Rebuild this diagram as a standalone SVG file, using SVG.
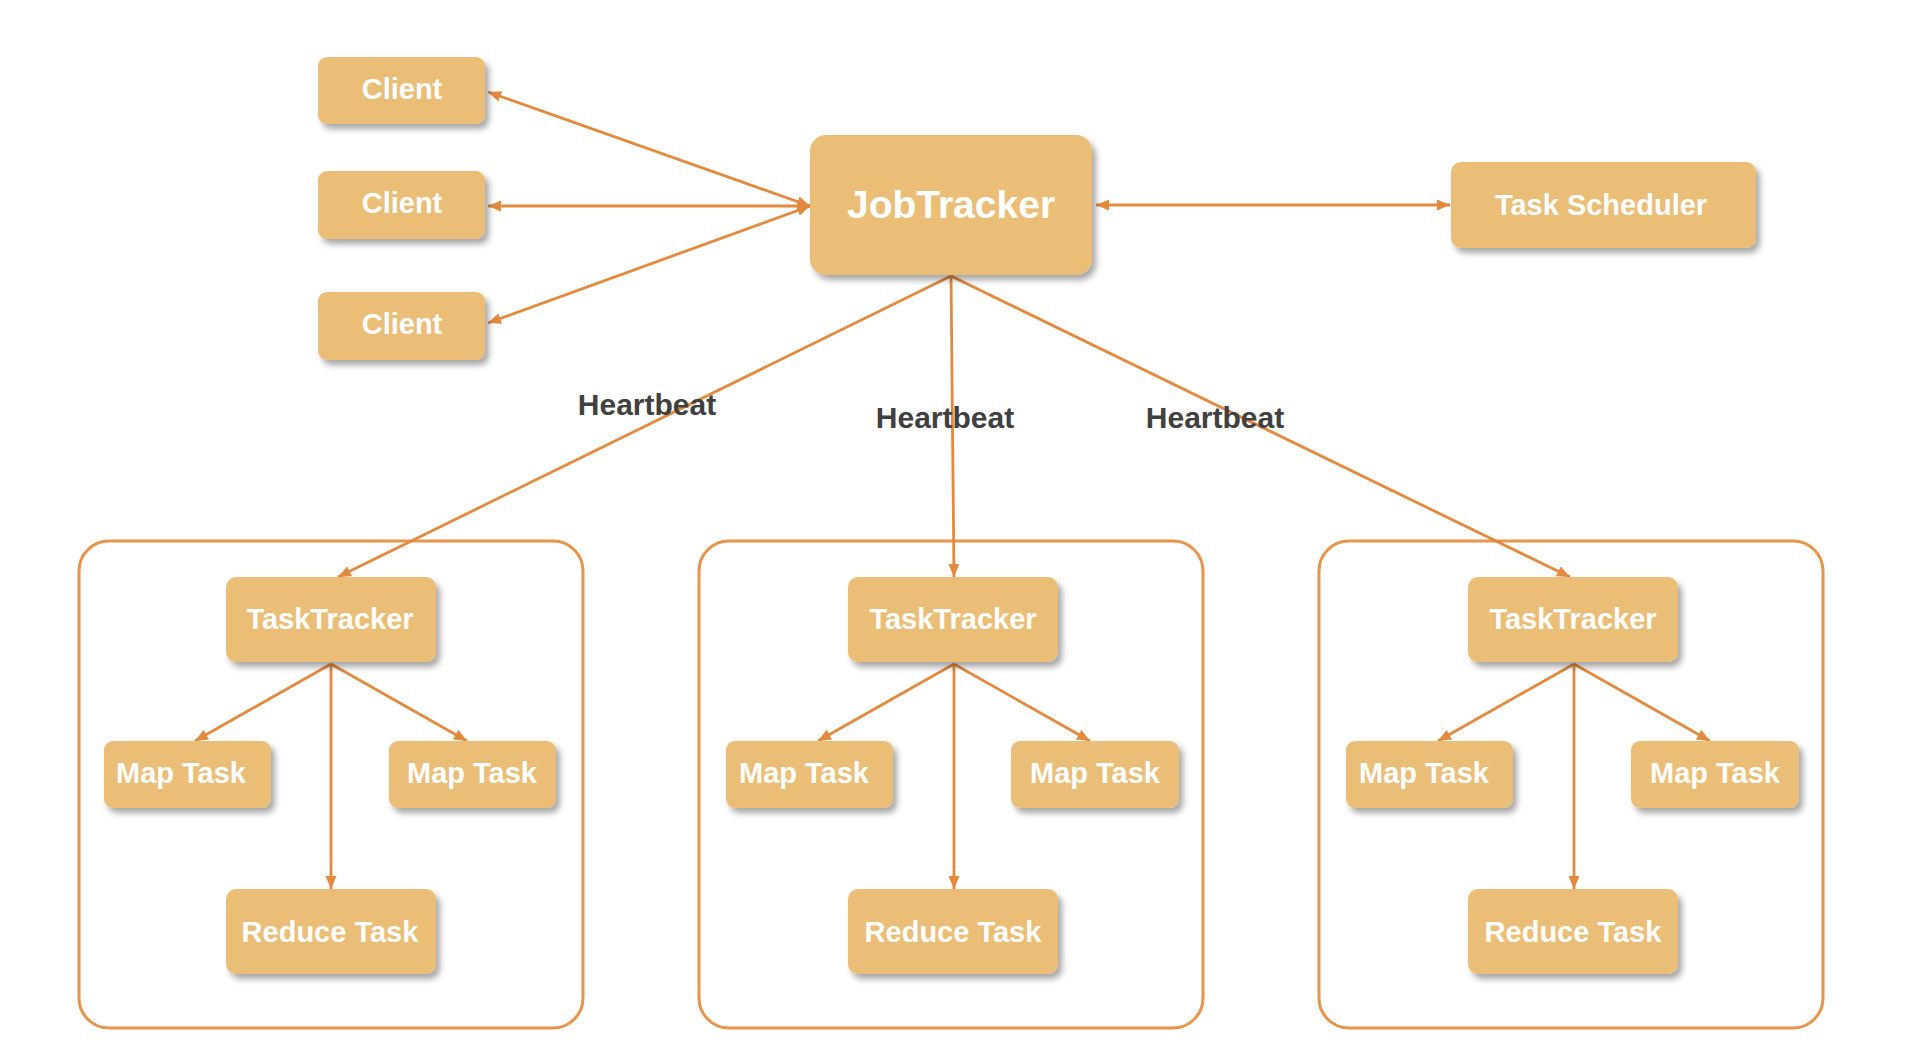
<svg xmlns="http://www.w3.org/2000/svg" width="1922" height="1062" viewBox="0 0 1922 1062">
  <defs>
    <filter id="sh" x="-10%" y="-10%" width="130%" height="140%">
      <feDropShadow dx="4" dy="5" stdDeviation="3" flood-color="#000" flood-opacity="0.35"/>
    </filter>
    <marker id="ah" viewBox="0 0 13 11" refX="13" refY="5.5" markerWidth="13" markerHeight="11" markerUnits="userSpaceOnUse" orient="auto-start-reverse">
      <path d="M0,0 L13,5.5 L0,11 z" fill="#E38A3E"/>
    </marker>
    <style>
      .box { fill: #EBBE78; filter: url(#sh); }
      .lbl { font-family: "Liberation Sans", Arial, sans-serif; font-weight: bold; fill: #ffffff; text-anchor: middle; font-size: 29px; }
      .big { font-size: 39px; }
      .hb { font-family: "Liberation Sans", Arial, sans-serif; font-weight: bold; fill: #404040; text-anchor: middle; font-size: 30px; }
      .cont { fill: none; stroke: #E8944A; stroke-width: 3; }
      .ln { fill: none; stroke: #E38A3E; stroke-width: 2.8; }
    </style>
  </defs>
  <rect width="1922" height="1062" fill="#ffffff"/>

  <g id="containers">
    <rect class="cont" x="79" y="541" width="504" height="487" rx="30"/>
    <rect class="cont" x="699" y="541" width="504" height="487" rx="30"/>
    <rect class="cont" x="1319" y="541" width="504" height="487" rx="30"/>
  </g>

  <g id="connectors">
    <line class="ln" x1="488" y1="92" x2="810" y2="206" marker-start="url(#ah)" marker-end="url(#ah)"/>
    <line class="ln" x1="488" y1="206" x2="810" y2="206" marker-start="url(#ah)" marker-end="url(#ah)"/>
    <line class="ln" x1="488" y1="323" x2="810" y2="206" marker-start="url(#ah)" marker-end="url(#ah)"/>
    <line class="ln" x1="1096" y1="205" x2="1450" y2="205" marker-start="url(#ah)" marker-end="url(#ah)"/>
    <line class="ln" x1="951" y1="276" x2="338" y2="577" marker-end="url(#ah)"/>
    <line class="ln" x1="951" y1="276" x2="954" y2="577" marker-end="url(#ah)"/>
    <line class="ln" x1="951" y1="276" x2="1570" y2="577" marker-end="url(#ah)"/>
    <!-- left group -->
    <line class="ln" x1="331" y1="664" x2="195" y2="741" marker-end="url(#ah)"/>
    <line class="ln" x1="331" y1="664" x2="467" y2="741" marker-end="url(#ah)"/>
    <line class="ln" x1="331" y1="664" x2="331" y2="889" marker-end="url(#ah)"/>
    <!-- middle group -->
    <line class="ln" x1="954" y1="664" x2="818" y2="741" marker-end="url(#ah)"/>
    <line class="ln" x1="954" y1="664" x2="1090" y2="741" marker-end="url(#ah)"/>
    <line class="ln" x1="954" y1="664" x2="954" y2="889" marker-end="url(#ah)"/>
    <!-- right group -->
    <line class="ln" x1="1574" y1="664" x2="1438" y2="741" marker-end="url(#ah)"/>
    <line class="ln" x1="1574" y1="664" x2="1710" y2="741" marker-end="url(#ah)"/>
    <line class="ln" x1="1574" y1="664" x2="1574" y2="889" marker-end="url(#ah)"/>
  </g>

  <g id="heartbeat-labels">
    <text class="hb" x="647" y="415">Heartbeat</text>
    <text class="hb" x="945" y="428">Heartbeat</text>
    <text class="hb" x="1215" y="428">Heartbeat</text>
  </g>

  <g id="client1"><rect class="box" x="318" y="57" width="167" height="67" rx="9"/><text class="lbl" x="402" y="99">Client</text></g>
  <g id="client2"><rect class="box" x="318" y="171" width="167" height="68" rx="9"/><text class="lbl" x="402" y="213">Client</text></g>
  <g id="client3"><rect class="box" x="318" y="292" width="167" height="68" rx="9"/><text class="lbl" x="402" y="334">Client</text></g>

  <g id="jobtracker"><rect class="box" x="810" y="135" width="282" height="140" rx="16"/><text class="lbl big" x="951" y="218">JobTracker</text></g>
  <g id="taskscheduler"><rect class="box" x="1451" y="162" width="305" height="86" rx="10"/><text class="lbl" x="1601" y="215">Task Scheduler</text></g>

  <g id="tasktracker1"><rect class="box" x="226" y="577" width="210" height="85" rx="10"/><text class="lbl" x="330" y="629">TaskTracker</text></g>
  <g id="maptask1a"><rect class="box" x="104" y="741" width="167" height="67" rx="9"/><text class="lbl" x="181" y="783">Map Task</text></g>
  <g id="maptask1b"><rect class="box" x="389" y="741" width="167" height="67" rx="9"/><text class="lbl" x="472" y="783">Map Task</text></g>
  <g id="reducetask1"><rect class="box" x="226" y="889" width="210" height="85" rx="10"/><text class="lbl" x="330" y="942">Reduce Task</text></g>

  <g id="tasktracker2"><rect class="box" x="848" y="577" width="210" height="85" rx="10"/><text class="lbl" x="953" y="629">TaskTracker</text></g>
  <g id="maptask2a"><rect class="box" x="726" y="741" width="167" height="67" rx="9"/><text class="lbl" x="804" y="783">Map Task</text></g>
  <g id="maptask2b"><rect class="box" x="1011" y="741" width="168" height="67" rx="9"/><text class="lbl" x="1095" y="783">Map Task</text></g>
  <g id="reducetask2"><rect class="box" x="848" y="889" width="210" height="85" rx="10"/><text class="lbl" x="953" y="942">Reduce Task</text></g>

  <g id="tasktracker3"><rect class="box" x="1468" y="577" width="210" height="85" rx="10"/><text class="lbl" x="1573" y="629">TaskTracker</text></g>
  <g id="maptask3a"><rect class="box" x="1346" y="741" width="167" height="67" rx="9"/><text class="lbl" x="1424" y="783">Map Task</text></g>
  <g id="maptask3b"><rect class="box" x="1631" y="741" width="168" height="67" rx="9"/><text class="lbl" x="1715" y="783">Map Task</text></g>
  <g id="reducetask3"><rect class="box" x="1468" y="889" width="210" height="85" rx="10"/><text class="lbl" x="1573" y="942">Reduce Task</text></g>
</svg>
